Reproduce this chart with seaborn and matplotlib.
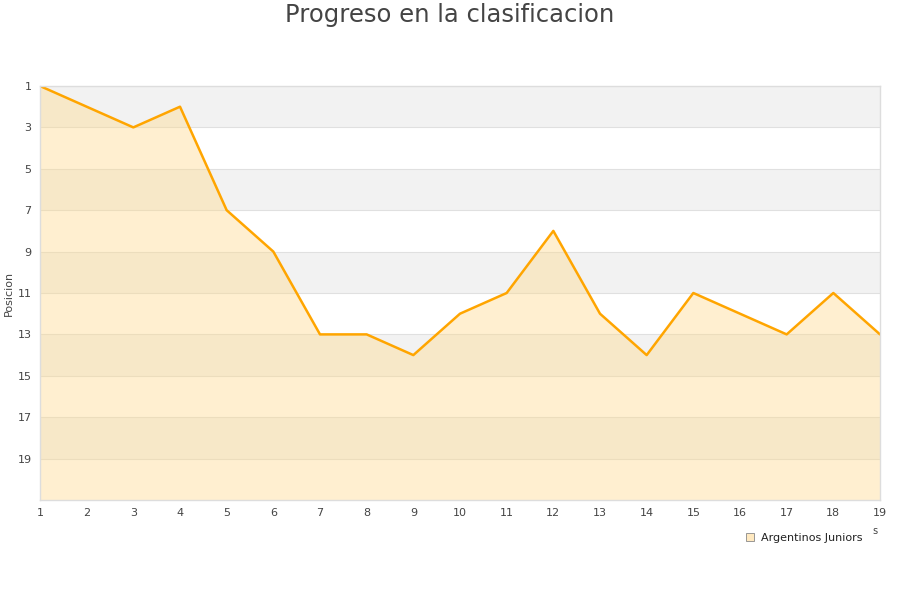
import matplotlib
matplotlib.use("Agg")
import matplotlib.pyplot as plt
import seaborn as sns
import pandas as pd
from matplotlib.lines import Line2D

jornadas = list(range(1, 20))
posicion = [1, 2, 3, 2, 7, 9, 13, 13, 14, 12, 11, 8, 12, 14, 11, 12, 13, 11, 13]
team = "Argentinos Juniors"
y_ticks = [1, 3, 5, 7, 9, 11, 13, 15, 17, 19]

sns.set_theme(style="white")
plt.rcParams['font.family'] = ['DejaVu Sans']

df = pd.DataFrame({"Jornada": jornadas, "Posicion": posicion})

fig = plt.figure(figsize=(9, 6), dpi=100)
ax = fig.add_axes([40/900, 1-500/600, 840/900, 414/600])

# alternating bands
for i, lo in enumerate(range(1, 21, 2)):
    if i % 2 == 0:
        ax.axhspan(lo, lo + 2, color="#f2f2f2", zorder=0, lw=0)
for t in y_ticks[1:]:
    ax.axhline(t, color="#e0e0e0", lw=0.8, zorder=0.5)

ax.fill_between(df["Jornada"], df["Posicion"], 21, color="#ffd98a", alpha=0.4, lw=0, zorder=1)
sns.lineplot(data=df, x="Jornada", y="Posicion", ax=ax, color="#ffa500", lw=1.8, zorder=2)

ax.set_xlim(1, 19)
ax.set_ylim(21, 1)
ax.set_xticks(jornadas)
ax.set_yticks(y_ticks)
ax.tick_params(axis="both", labelsize=8, colors="#444444", length=0, pad=6)
ax.set_xlabel("")
ax.set_ylabel("Posicion", fontsize=8, color="#444444")
ax.yaxis.set_label_coords(-26/840, 0.5)
for s in ax.spines.values():
    s.set_color("#dddddd")
    s.set_linewidth(1)

fig.text(0.5, 1-15/600, "Progreso en la clasificacion", ha="center", va="center",
         fontsize=17.5, color="#444444")
fig.text(875/900, 1-531/600, "s", ha="center", va="center", fontsize=7, color="#444444")

handle = Line2D([], [], marker="s", ls="none", markersize=6,
                markerfacecolor="#ffe9c0", markeredgecolor="#888888", markeredgewidth=0.6)
fig.legend([handle], [team], loc="center left", bbox_to_anchor=(739/900, 1-538/600),
           frameon=False, fontsize=8, handletextpad=0.5, borderpad=0, handlelength=1,
           labelcolor="#222222")

fig.savefig("out.png", dpi=100)
